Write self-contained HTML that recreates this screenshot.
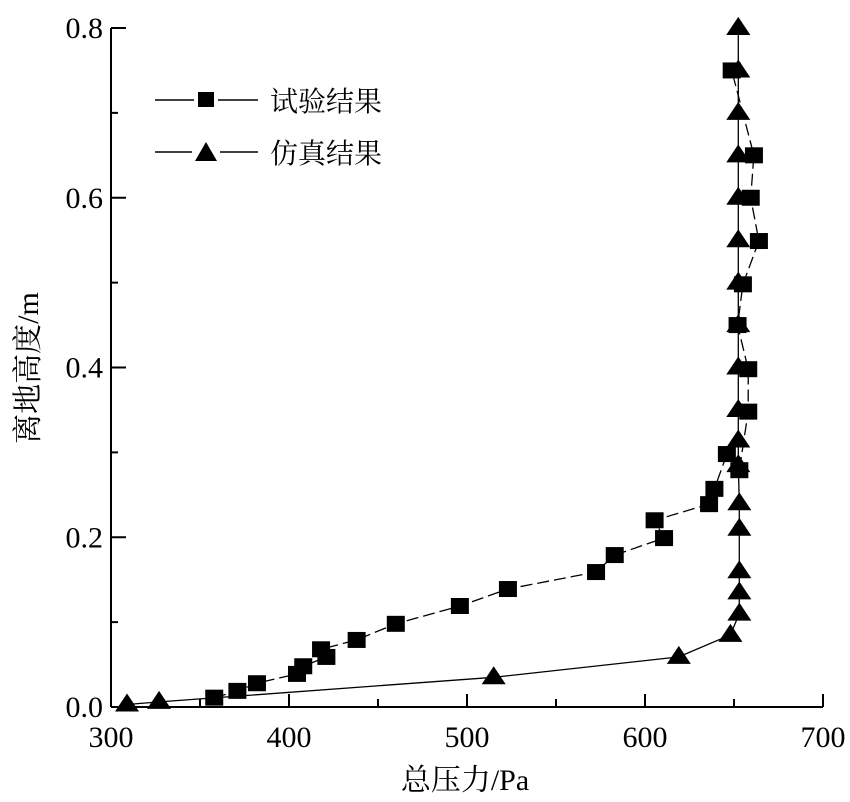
<!DOCTYPE html>
<html><head><meta charset="utf-8"><style>
html,body{margin:0;padding:0;background:#fff;}
svg{display:block;font-family:"Liberation Serif","Noto Serif CJK SC",serif;}
</style></head><body>
<svg id="chart" width="850" height="802" viewBox="0 0 850 802" xmlns="http://www.w3.org/2000/svg">
<g id="axes"></g>
<g id="series"></g>
<g id="legend">
  <line x1="155" y1="100" x2="194" y2="100" stroke="#000" stroke-width="1.5"/>
  <line x1="218" y1="100" x2="258" y2="100" stroke="#000" stroke-width="1.5"/>
  <rect x="198" y="92" width="16" height="15" fill="#000"/>
  <text x="270" y="111" font-size="28" font-family="'Noto Serif CJK SC',serif">试验结果</text>
  <line x1="155" y1="152" x2="192" y2="152" stroke="#000" stroke-width="1.5"/>
  <line x1="220" y1="152" x2="258" y2="152" stroke="#000" stroke-width="1.5"/>
  <polygon points="195,161 206,142 217,161" fill="#000"/>
  <text x="270" y="163" font-size="28" font-family="'Noto Serif CJK SC',serif">仿真结果</text>
</g>
<text x="465" y="790" text-anchor="middle" font-size="30">总压力/Pa</text>
<text transform="translate(38,368) rotate(-90)" text-anchor="middle" font-size="30">离地高度/m</text>
</svg>
<script>
const xTicks = [300, 400, 500, 600, 700];
const yTicks = [0.0, 0.2, 0.4, 0.6, 0.8];
const yTickLabels = ["0.0", "0.2", "0.4", "0.6", "0.8"];
const expPressure = [358, 371, 382, 404.5, 408, 421, 418, 438, 460, 496, 523, 572.5, 583, 610.7, 605.4, 636, 639, 646, 653, 658, 658, 652, 655, 664, 659.4, 661.2, 648.7];
const expHeight = [0.011, 0.019, 0.028, 0.039, 0.048, 0.059, 0.068, 0.079, 0.098, 0.119, 0.139, 0.159, 0.179, 0.199, 0.220, 0.239, 0.257, 0.298, 0.279, 0.348, 0.398, 0.45, 0.498, 0.549, 0.600, 0.650, 0.750];
const simPressure = [309, 327, 515, 619, 648, 653, 653, 653, 653, 653, 652.4, 652.4, 652.4, 652.4, 652.4, 652.4, 652.4, 652.4, 652.4, 652.4, 652.4, 652.4, 652.4];
const simHeight = [0.003, 0.006, 0.035, 0.059, 0.085, 0.11, 0.135, 0.16, 0.21, 0.24, 0.285, 0.314, 0.35, 0.40, 0.45, 0.50, 0.55, 0.60, 0.65, 0.70, 0.75, 0.80, 0.80];

const NS = "http://www.w3.org/2000/svg";
const X0 = 111, X1 = 823, Y0 = 707, Y1 = 28;
function xs(v){ return X0 + (v - 300) / 400 * (X1 - X0); }
function ys(v){ return Y0 - v / 0.8 * (Y0 - Y1); }
function mk(tag, attrs, parent){ const e = document.createElementNS(NS, tag); for (const k in attrs) e.setAttribute(k, attrs[k]); parent.appendChild(e); return e; }

const axes = document.getElementById('axes');
let e = mk('line', {x1:X0, y1:Y0, x2:X1, y2:Y0, stroke:'#000', 'stroke-width':2}, axes);


e = mk('line', {x1:X0, y1:Y0, x2:X0, y2:Y1, stroke:'#000', 'stroke-width':2}, axes);


for (let v = 300; v <= 700; v += 50) {
  const major = (v % 100 === 0);
  e = mk('line', {x1:xs(v), y1:Y0, x2:xs(v), y2:Y0 - (major ? 13 : 8), stroke:'#000', 'stroke-width':2}, axes);
  
  
}
xTicks.forEach(v => {
  const t = mk('text', {x:xs(v), y:Y0 + 40, 'text-anchor':'middle', 'font-size':30}, axes);
  t.textContent = v;
  
  
});
for (let i = 0; i <= 8; i++) {
  const v = i / 10;
  const major = (i % 2 === 0);
  e = mk('line', {x1:X0, y1:ys(v), x2:X0 + (major ? 15 : 7), y2:ys(v), stroke:'#000', 'stroke-width':2}, axes);
  
  
}
yTicks.forEach((v, i) => {
  const t = mk('text', {x:X0 - 8, y:ys(v) + 10, 'text-anchor':'end', 'font-size':30}, axes);
  t.textContent = yTickLabels[i];
  
  
});

const series = document.getElementById('series');
const expPts = expPressure.map((p, i) => xs(p).toFixed(1) + ',' + ys(expHeight[i]).toFixed(1)).join(' ');
e = mk('polyline', {points:expPts, fill:'none', stroke:'#000', 'stroke-width':1.3, 'stroke-dasharray':'12,5'}, series);


const simPts = simPressure.map((p, i) => xs(p).toFixed(1) + ',' + ys(simHeight[i]).toFixed(1)).join(' ');
e = mk('polyline', {points:simPts, fill:'none', stroke:'#000', 'stroke-width':1.3}, series);


simPressure.forEach((p, i) => {
  const cx = xs(p), cy = ys(simHeight[i]);
  const t = mk('polygon', {points:`${cx-12},${cy+7} ${cx},${cy-11} ${cx+12},${cy+7}`, fill:'#000'}, series);
  
  
});
expPressure.forEach((p, i) => {
  const cx = xs(p), cy = ys(expHeight[i]);
  const r = mk('rect', {x:cx - 9, y:cy - 8, width:18, height:16, fill:'#000'}, series);
  
  
});
</script>
</body></html>
